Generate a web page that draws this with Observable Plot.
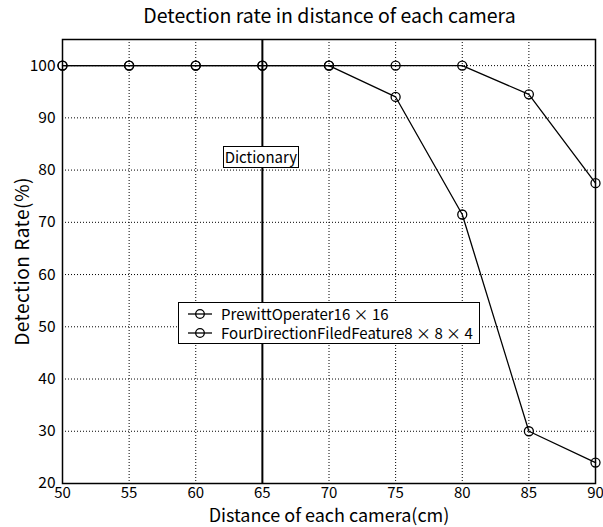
<!DOCTYPE html>
<html>
<head>
<meta charset="utf-8">
<script src="https://cdn.jsdelivr.net/npm/d3@7"></script>
<script src="https://cdn.jsdelivr.net/npm/@observablehq/plot@0.6"></script>
<style>
  html, body { margin: 0; padding: 0; background: #fff; }
  #wrap { position: relative; width: 603px; height: 527px; font-family: "Noto Sans CJK JP", "Liberation Sans", sans-serif; color: #000; }
  #title { height: 30px; line-height: 30px; font-size: 19.5px; text-align: center; padding-left: 56px; box-sizing: border-box; }
  #legend { position: absolute; background: #fff; border: 1.3px solid #000; box-sizing: border-box; font-size: 15px; padding: 1px 0 0 8px; }
  #legend .row { display: flex; align-items: center; height: 19px; white-space: nowrap; }
  #legend svg { margin-right: 8px; }
  #dict { position: absolute; background: #fff; border: 1.3px solid #000; box-sizing: border-box; font-size: 15px; text-align: center; line-height: 19px; }
</style>
</head>
<body>
<div id="wrap">
  <div id="title">Detection rate in distance of each camera</div>
  <div id="chart"></div>
</div>
<script>
const distances = [50, 55, 60, 65, 70, 75, 80, 85, 90];
const prewittRates = [100, 100, 100, 100, 100, 94, 71.5, 30, 24];
const fourDirRates = [100, 100, 100, 100, 100, 100, 100, 94.5, 77.5];
const seriesNames = ["PrewittOperater16 × 16", "FourDirectionFiledFeature8 × 8 × 4"];
const xTicks = [50, 55, 60, 65, 70, 75, 80, 85, 90];
const yTicks = [20, 30, 40, 50, 60, 70, 80, 90, 100];
const dictionaryX = [65];
const dictionaryLabel = "Dictionary";
const dictionaryLabelY = 82.5;
const xLabel = "Distance of each camera(cm)";
const yLabel = "Detection Rate(%)";

const rows = [];
distances.forEach((d, i) => rows.push({x: d, y: prewittRates[i], s: seriesNames[0]}));
distances.forEach((d, i) => rows.push({x: d, y: fourDirRates[i], s: seriesNames[1]}));

const font = '"Noto Sans CJK JP", "Liberation Sans", sans-serif';
const plot = Plot.plot({
  width: 603,
  height: 497,
  marginLeft: 62,
  marginRight: 8,
  marginTop: 9,
  marginBottom: 44,
  style: {fontFamily: font, fontSize: "15px", color: "#000", background: "#fff", overflow: "visible"},
  x: {domain: [50, 90], ticks: xTicks, tickSize: 0, label: null, tickFormat: d => String(d)},
  y: {domain: [20, 105], ticks: yTicks, tickSize: 0, label: null, tickFormat: d => String(d)},
  marks: [
    Plot.gridX(xTicks.filter(t => t > 50 && t < 90 && !dictionaryX.includes(t)), {stroke: "#000", strokeOpacity: 1, strokeWidth: 1, strokeDasharray: "1,2"}),
    Plot.gridY(yTicks.filter(t => t > 20), {stroke: "#000", strokeOpacity: 1, strokeWidth: 1, strokeDasharray: "1,2"}),
    Plot.ruleX(dictionaryX, {stroke: "#000", strokeWidth: 2}),
    Plot.axisX({ticks: xTicks, tickSize: 0, tickPadding: 4, label: null, fontSize: 15}),
    Plot.axisY({ticks: yTicks, tickSize: 0, tickPadding: 7, label: null, fontSize: 15.5}),
    Plot.line(rows, {x: "x", y: "y", z: "s", stroke: "#000", strokeWidth: 1.3}),
    Plot.dot(rows, {x: "x", y: "y", r: 4.5, stroke: "#000", strokeWidth: 1.3, fill: "none"}),
    Plot.frame({stroke: "#000", strokeWidth: 1.5}),
    Plot.text([xLabel], {text: d => d, frameAnchor: "bottom", dy: 33, fontSize: 18, lineAnchor: "middle"}),
    Plot.text([yLabel], {text: d => d, frameAnchor: "left", dx: -40, rotate: -90, fontSize: 19, textAnchor: "middle"})
  ]
});
document.getElementById("chart").appendChild(plot);
plot.querySelectorAll("text").forEach(t => { if (t.textContent === yLabel) t.setAttribute("letter-spacing", "0.5"); });

// Dictionary label box, positioned via the plot's scales
const xs = plot.scale("x"), ys = plot.scale("y");
const dict = document.createElement("div");
dict.id = "dict";
dict.textContent = dictionaryLabel;
const dw = 76, dh = 22;
dict.style.width = dw + "px";
dict.style.height = dh + "px";
dict.style.left = (xs.apply(dictionaryX[0]) - dw / 2 - 1) + "px";
dict.style.top = (30 + ys.apply(dictionaryLabelY) - dh / 2) + "px";
document.getElementById("wrap").appendChild(dict);

// Legend box
const legend = document.createElement("div");
legend.id = "legend";
legend.style.left = "178px";
legend.style.top = "302px";
legend.style.width = "302px";
legend.style.height = "42px";
seriesNames.forEach(name => {
  const row = document.createElement("div");
  row.className = "row";
  row.innerHTML = '<svg width="26" height="12"><line x1="1" y1="6" x2="25" y2="6" stroke="#000" stroke-width="1.3"/><circle cx="13" cy="6" r="4.3" fill="none" stroke="#000" stroke-width="1.3"/></svg>';
  const span = document.createElement("span");
  span.textContent = name;
  row.appendChild(span);
  legend.appendChild(row);
});
document.getElementById("wrap").appendChild(legend);
</script>
</body>
</html>
